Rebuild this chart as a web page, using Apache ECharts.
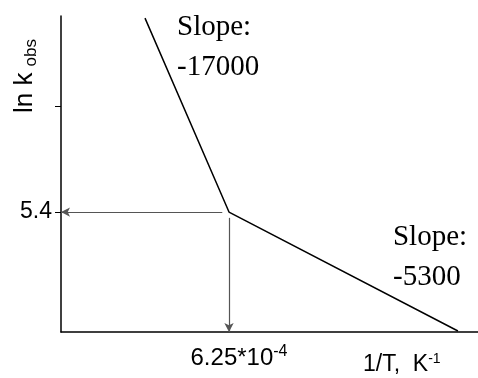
<!DOCTYPE html>
<html>
<head>
<meta charset="utf-8">
<script src="https://cdn.jsdelivr.net/npm/echarts@6/dist/echarts.min.js"></script>
<style>
  html, body { margin: 0; padding: 0; background: #fff; }
  #chart { width: 478px; height: 378px; }
</style>
</head>
<body>
<div id="chart"></div>
<script>
// axis ranges (1/T in units of 1e-4 K^-1, ln k)
var xRange = [5.5, 7.3616];
var yRange = [5.1736, 5.77];

// broken line: steep part then shallow part
var lineX = [5.875, 6.25, 7.272];
var lineY = [5.766, 5.4, 5.1755];

// break point
var breakX = 6.25;
var breakY = 5.4;

var yTicks = [5.4, 5.6];
var yLabels = [5.4];
var xLabels = [6.25];

// slope notes, anchored at their left / vertical middle
var slopeX = [6.018, 6.982];
var slopeY = [5.711, 5.315];
var slopeText = ['Slope:\n-17000', 'Slope:\n-5300'];

var chart = echarts.init(document.getElementById('chart'));

var lineData = lineX.map(function(x, i) { return [x, lineY[i]]; });

var option = {
    animation: false,
    backgroundColor: '#fff',
    grid: { left: 61, right: 0, top: 16, bottom: 46 },
    xAxis: {
        type: 'value',
        min: xRange[0],
        max: xRange[1],
        splitLine: { show: false },
        axisLine: { onZero: false, lineStyle: { color: '#000', width: 1.5 } },
        axisTick: { show: false },
        axisLabel: {
            customValues: xLabels,
            margin: 12,
            padding: [0, 0, 0, 20],
            formatter: function(v) { return '{m|' + v + '*10}{s|-4}'; },
            rich: {
                m: { fontFamily: 'Liberation Sans', fontSize: 24, color: '#000', verticalAlign: 'bottom' },
                s: { fontFamily: 'Liberation Sans', fontSize: 16, color: '#000', verticalAlign: 'top', padding: [0, 0, 10, 0] }
            }
        }
    },
    yAxis: {
        type: 'value',
        min: yRange[0],
        max: yRange[1],
        splitLine: { show: false },
        axisLine: { onZero: false, lineStyle: { color: '#000', width: 1.5 } },
        axisTick: { customValues: yTicks, length: 6, lineStyle: { color: '#000', width: 1 } },
        axisLabel: {
            customValues: yLabels,
            margin: 9,
            fontFamily: 'Liberation Sans',
            fontSize: 23,
            color: '#000'
        }
    },
    graphic: [
        {
            type: 'text',
            x: 25,
            y: 76,
            rotation: Math.PI / 2,
            style: {
                text: '{a|ln k}{b|obs}',
                align: 'center',
                verticalAlign: 'middle',
                rich: {
                    a: { fontFamily: 'Liberation Sans', fontSize: 26, fill: '#000' },
                    b: { fontFamily: 'Liberation Sans', fontSize: 17, fill: '#000', padding: [12, 0, 0, 6] }
                }
            }
        },
        {
            type: 'text',
            x: 363,
            y: 352,
            style: {
                text: '{a|1/T,  K}{b|-1}',
                rich: {
                    a: { fontFamily: 'Liberation Sans', fontSize: 23, fill: '#000' },
                    b: { fontFamily: 'Liberation Sans', fontSize: 14, fill: '#000', padding: [0, 0, 12, 0] }
                }
            }
        }
    ],
    series: [
        {
            type: 'line',
            data: lineData,
            symbol: 'none',
            lineStyle: { color: '#000', width: 1.5 },
            markLine: {
                silent: true,
                symbol: ['none', 'arrow'],
                symbolSize: [7, 9],
                label: { show: false },
                lineStyle: { color: '#555', width: 1.2, type: 'solid' },
                data: [
                    [{ coord: [breakX - 0.03, breakY] }, { coord: [xRange[0], breakY] }],
                    [{ coord: [breakX, breakY - 0.011] }, { coord: [breakX, yRange[0]] }]
                ]
            }
        },
        {
            type: 'scatter',
            silent: true,
            symbolSize: 0,
            itemStyle: { opacity: 1 },
            data: slopeX.map(function(x, i) { return { value: [x, slopeY[i]], text: slopeText[i] }; }),
            label: {
                show: true,
                position: 'inside',
                align: 'left',
                verticalAlign: 'middle',
                formatter: function(p) { return p.data.text; },
                fontFamily: 'Liberation Serif',
                fontSize: 29,
                lineHeight: 40,
                color: '#000',
                opacity: 1
            }
        }
    ]
};

chart.setOption(option);
</script>
</body>
</html>
